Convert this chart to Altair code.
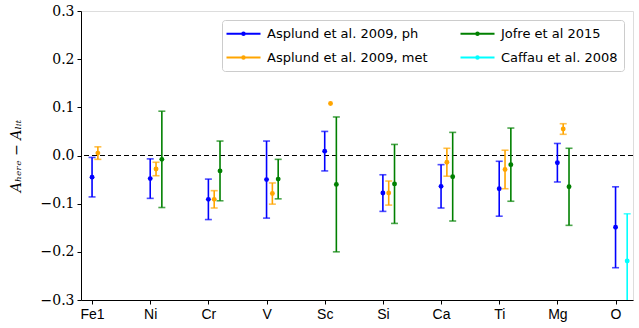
import altair as alt
import pandas as pd

elements = ["Fe1", "Ni", "Cr", "V", "Sc", "Si", "Ca", "Ti", "Mg", "O"]

series_names = ["Asplund et al. 2009, ph", "Asplund et al. 2009, met",
                "Jofre et al 2015", "Caffau et al. 2008"]
series_colors = ["#0000ff", "#ffa500", "#008000", "#00ffff"]

# Asplund et al. 2009, ph
ph_val = [-0.045, -0.048, -0.091, -0.050, 0.009, -0.078, -0.064, -0.069, -0.015, -0.149]
ph_err = [0.041, 0.041, 0.042, 0.080, 0.041, 0.038, 0.045, 0.057, 0.040, 0.084]
# Asplund et al. 2009, met
met_el = ["Fe1", "Ni", "Cr", "V", "Sc", "Si", "Ca", "Ti", "Mg"]
met_val = [0.005, -0.028, -0.091, -0.079, 0.108, -0.078, -0.014, -0.029, 0.055]
met_err = [0.013, 0.014, 0.018, 0.022, None, 0.025, 0.029, 0.040, 0.011]
# Jofre et al 2015
jof_el = ["Ni", "Cr", "V", "Sc", "Si", "Ca", "Ti", "Mg"]
jof_val = [-0.008, -0.032, -0.049, -0.060, -0.059, -0.044, -0.019, -0.065]
jof_err = [0.100, 0.062, 0.041, 0.140, 0.082, 0.092, 0.076, 0.080]
# Caffau et al. 2008
caf_el = ["O"]
caf_val = [-0.219]
caf_err = [0.098]

offsets = {series_names[0]: 0.0, series_names[1]: 0.1,
           series_names[2]: 0.2, series_names[3]: 0.2}

rows = []
def add(name, els, vals, errs):
    for e, v, er in zip(els, vals, errs):
        x = elements.index(e) + offsets[name]
        rows.append({"series": name, "x": x, "val": v,
                     "err": er,
                     "lo": v - er if er is not None else None,
                     "hi": v + er if er is not None else None})

add(series_names[0], elements, ph_val, ph_err)
add(series_names[1], met_el, met_val, met_err)
add(series_names[2], jof_el, jof_val, jof_err)
add(series_names[3], caf_el, caf_val, caf_err)
df = pd.DataFrame(rows)

SANS = "Liberation Sans"
LSANS = "DejaVu Sans"
SERIF = "DejaVu Serif"
label_expr = "[" + ",".join(f"'{e}'" for e in elements) + "][round(datum.value)]"

xenc = alt.X("x:Q", scale=alt.Scale(domain=[-0.19, 9.3], nice=False, zero=False),
             axis=alt.Axis(values=list(range(10)), labelExpr=label_expr, title=None,
                           grid=False, tickColor="black", domainColor="black",
                           tickSize=4, labelPadding=3, labelFont=SANS, labelFontSize=14,
                           labelColor="black"))
yscale = alt.Scale(domain=[-0.3, 0.3], nice=False)
yaxis = alt.Axis(values=[-0.3, -0.2, -0.1, 0.0, 0.1, 0.2, 0.3], format=".1f",
                 title="Aₕₑᵣₑ − Aₗᵢₜ", titleFont=SERIF, titleFontStyle="italic",
                 titleFontWeight="normal", titleFontSize=14, titleColor="black",
                 titlePadding=17, grid=False, tickColor="black", domainColor="black",
                 tickSize=4, labelPadding=3, labelFont=SERIF, labelFontSize=14,
                 labelColor="black")

# line with a dot at its centre (path units scaled by sqrt(symbolSize)/2 = 6 px)
sym_path = "M-1.5,0H4.17M1.14,0a0.19,0.19 0 1,0 0.38,0a0.19,0.19 0 1,0 -0.38,0"
cscale = alt.Scale(domain=series_names, range=series_colors)
color_leg = alt.Color("series:N", scale=cscale,
                      legend=alt.Legend(title=None, orient="top-right", offset=9, columns=2,
                                        symbolType=sym_path, symbolSize=144,
                                        symbolStrokeWidth=2.2, labelFont=LSANS,
                                        labelFontSize=13, labelColor="black",
                                        labelLimit=300,
                                        labelOffset=24, strokeColor="#cccccc",
                                        fillColor="white", padding=6, cornerRadius=3,
                                        columnPadding=28, rowPadding=9,
                                        symbolOpacity=1))
color_noleg = alt.Color("series:N", scale=cscale, legend=None)

base = alt.Chart(df)
errdf = base.transform_filter("isValid(datum.err)")

zero = alt.Chart(df).mark_rule(color="black", strokeDash=[5, 3], strokeWidth=1.2).encode(
    y=alt.datum(0, scale=yscale))

bars = errdf.mark_rule(strokeWidth=1.6, clip=True).encode(
    x=xenc, y=alt.Y("lo:Q", scale=yscale, axis=yaxis), y2="hi:Q", color=color_leg)
cap_lo = errdf.mark_tick(orient="horizontal", size=7, thickness=1.6, clip=True).encode(
    x=xenc, y=alt.Y("lo:Q", scale=yscale), color=color_noleg)
cap_hi = errdf.mark_tick(orient="horizontal", size=7, thickness=1.6, clip=True).encode(
    x=xenc, y=alt.Y("hi:Q", scale=yscale), color=color_noleg)
pts = base.mark_circle(size=24, opacity=1).encode(
    x=xenc, y=alt.Y("val:Q", scale=yscale), color=color_noleg)

chart = alt.layer(zero, bars, cap_lo, cap_hi, pts).properties(
    width=552, height=289,
    autosize=alt.AutoSizeParams(type="none"),
    padding={"left": 81, "top": 11, "right": 6, "bottom": 28},
).configure_view(stroke="black", strokeWidth=1).configure(background="white")

chart.save("out.html", embed_options={"renderer": "svg", "actions": False})
